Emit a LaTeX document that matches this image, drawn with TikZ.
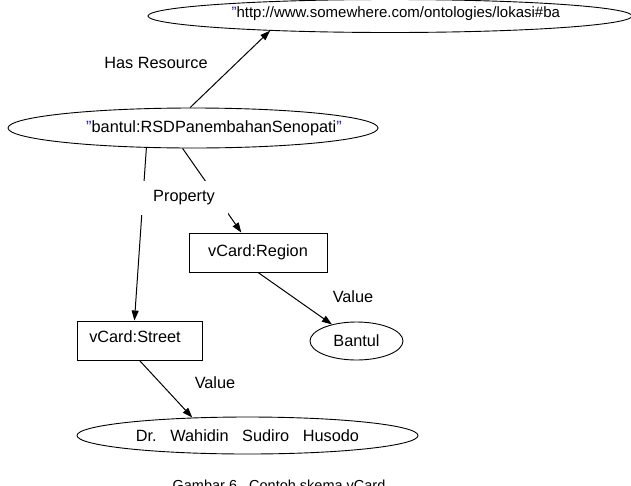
\documentclass[tikz,border=0pt]{standalone}
\usepackage{fontspec}
\setmainfont{Liberation Sans}
\usetikzlibrary{arrows.meta,shapes.geometric,calc}
\definecolor{qblue}{RGB}{30,30,170}
\newcommand{\dq}{\textcolor{qblue}{\char34}}
\begin{document}
\begin{tikzpicture}[x=1pt,y=-1pt,
 every node/.style={font=\fontsize{16.3}{19}\selectfont},
 ell/.style={draw,ellipse,inner sep=0pt,line width=0.9pt},
 box/.style={draw,rectangle,inner sep=0pt,line width=0.9pt},
 conn/.style={line width=1pt,-{Triangle[length=10pt,width=7pt]}},
]
\useasboundingbox (0,0) rectangle (631,485);
\clip (0,0) rectangle (631,485);
\node[ell,minimum width=484pt,minimum height=33pt] (uri) at (390,16) {};
\node[anchor=west,font=\fontsize{15}{18}\selectfont] (urit) at (228,14) {\dq http://www.somewhere.com/ontologies/lokasi\#ba};
\node[ell,minimum width=370pt,minimum height=40pt] (res) at (193,128) {};
\node (rest) at (214,128) {\dq bantul:RSDPanembahanSenopati\dq};
\node[box,minimum width=138pt,minimum height=39pt] (region) at (258,252.5) {vCard:Region};
\node[box,minimum width=125pt,minimum height=39pt] (street) at (139.5,340.5) {};
\node (streett) at (135,337) {vCard:Street};
\node[ell,minimum width=93pt,minimum height=38pt] (bantul) at (356.5,341) {Bantul};
\node[ell,minimum width=341pt,minimum height=37pt] (dr) at (247.5,435.5) {Dr.\ \ \ Wahidin\ \ \ Sudiro\ \ \ Husodo};
\draw[conn] (res.98.5) -- (uri.187.5);
\draw[conn] (res.203) -- ($(street.north west)!0.46!(street.north east)$);
\draw[conn] (res.243) -- ($(region.north west)!0.38!(region.north east)$);
\draw[conn] (region.south) -- (bantul.146);
\draw[conn] (street.south) -- (dr.162);
\node (hasres) at (156,63) {Has Resource};
\node[fill=white,inner xsep=13pt,inner ysep=10pt] (prop) at (184,198) {Property};
\node (val1) at (353,297) {Value};
\node (val2) at (215,383) {Value};
\node[anchor=base,font=\fontsize{14.5}{17}\selectfont] (cap) at (279,490) {Gambar 6.\ \ Contoh skema vCard};
\end{tikzpicture}
\end{document}
